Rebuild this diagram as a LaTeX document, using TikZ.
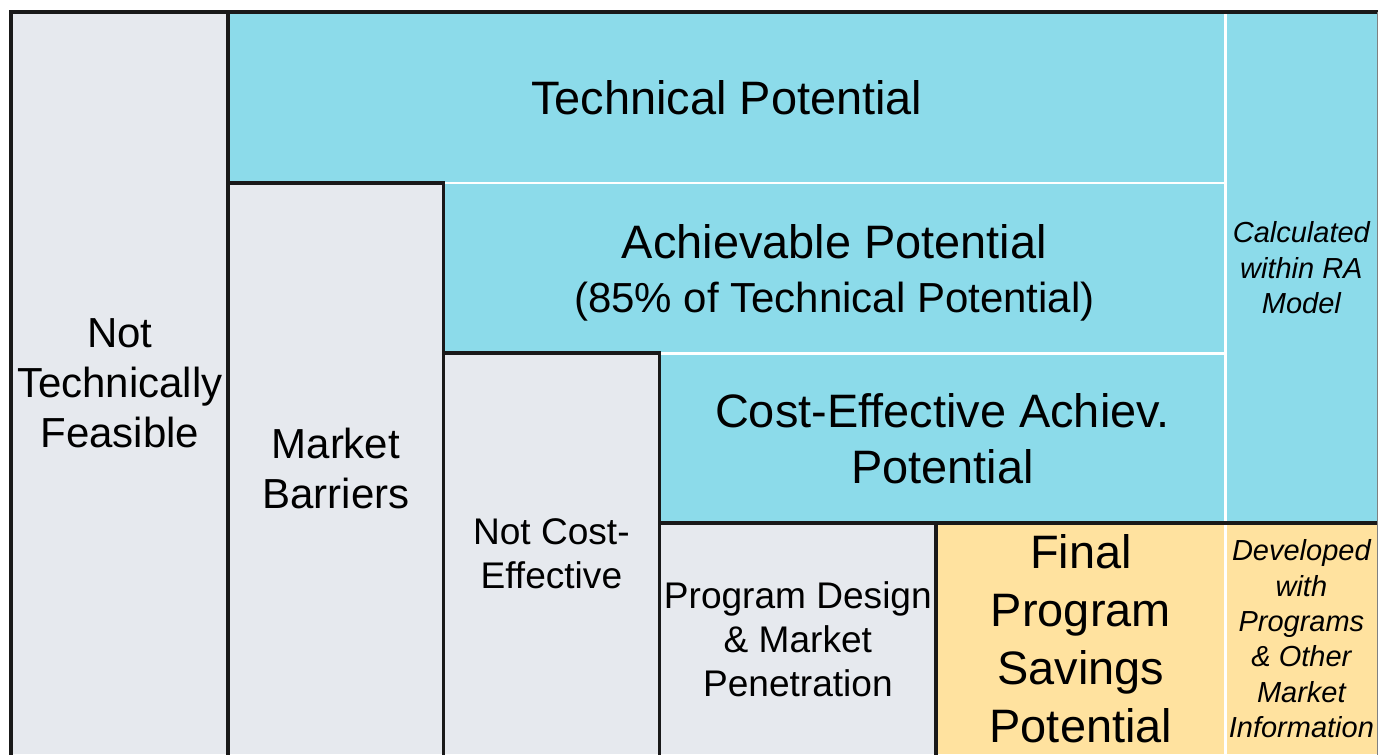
\documentclass[tikz,border=0pt]{standalone}
\usepackage{fontspec}
\setmainfont{Liberation Sans}
\usepackage{tikz}
\definecolor{potcyan}{RGB}{140, 219, 234}
\definecolor{barriergray}{RGB}{230, 233, 238}
\definecolor{savingsyellow}{RGB}{255, 226, 159}

\tikzset{
	cell/.style 2 args={minimum width=#1*0.02cm, minimum height=#2*0.02cm, anchor=north west, inner sep=0pt, align=center},
	bigtext/.style={font=\fontsize{26.7}{32}\selectfont},
	midtext/.style={font=\fontsize{23.9}{28.5}\selectfont},
	smalltext/.style={font=\fontsize{21.1}{25}\selectfont},
	notetext/.style={font=\itshape\fontsize{16.5}{20.1}\selectfont},
	edge/.style={line width=1.8pt, black!90},
	gap/.style={line width=1.7pt, white}
}

\begin{document}
\begin{tikzpicture}[x=0.02cm, y=-0.02cm]
	\useasboundingbox (0,0) rectangle (1378,754);
	% cells
	\node[cell={217}{742}, fill=barriergray, midtext] (nofeas) at (11,12) {Not\\Technically\\Feasible};
	\node[cell={997}{171}, fill=potcyan, bigtext] (techpot) at (228,12) {Technical Potential};
	\node[cell={215}{571}, fill=barriergray, midtext] (barriers) at (228,183) {Market\\Barriers};
	\node[cell={782}{170}, fill=potcyan, bigtext, text depth=0pt] (achpot) at (443,183) {\raisebox{-3pt}{Achievable Potential}\\[1.5pt]{\fontsize{23.9}{28.5}\selectfont(85\% of Technical Potential)}};
	\node[cell={216}{401}, fill=barriergray, smalltext] (notcost) at (443,353) {Not Cost-\\Effective};
	\node[cell={566}{170}, fill=potcyan, bigtext] (costeff) at (659,353) {Cost-Effective Achiev.\\Potential};
	\node[cell={277}{231}, fill=barriergray, smalltext] (design) at (659,523) {Program Design\\\& Market\\Penetration};
	\node[cell={289}{231}, fill=savingsyellow, font=\fontsize{26.7}{33}\selectfont] (final) at (936,523) {Final\\Program\\Savings\\Potential};
	\node[cell={152}{511}, fill=potcyan, notetext] (ramodel) at (1225,12) {Calculated\\within RA\\Model};
	\node[cell={152}{231}, fill=savingsyellow, notetext] (marketinfo) at (1225,523) {Developed\\with\\Programs\\\& Other\\Market\\Information};
	% white gaps
	\draw[gap] (achpot.north west) -- (achpot.north east);
	\draw[gap] (costeff.north west) -- (costeff.north east);
	\draw[gap] (ramodel.north west) -- (marketinfo.south west);
	% black borders
	\draw[edge] (nofeas.south west) -- (nofeas.north west) -- (ramodel.north east);
	\draw[edge] (techpot.north west) -- (barriers.south west);
	\draw[edge] (barriers.north west) -- (barriers.north east) -- (barriers.south east);
	\draw[edge] (notcost.north west) -- (notcost.north east) -- (notcost.south east);
	\draw[edge] (design.north west) -- (marketinfo.north east);
	\draw[edge] (final.north west) -- (final.south west);
	\draw[gray, line width=0.6pt] (ramodel.north east) -- (marketinfo.south east);
\end{tikzpicture}
\end{document}
